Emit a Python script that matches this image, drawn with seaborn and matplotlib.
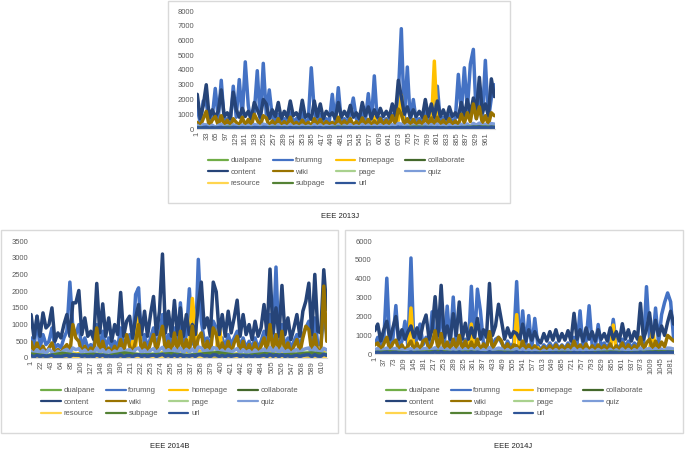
"""
Daily clicks per activity type for three EEE presentations (2013J, 2014B, 2014J).
Three Excel-style line panels: one centred on top, two side by side below.
"""
import numpy as np
import pandas as pd
import matplotlib
matplotlib.use("Agg")
import matplotlib.pyplot as plt
import seaborn as sns
from matplotlib.patches import Rectangle
from matplotlib.lines import Line2D

FIG_W, FIG_H = 685, 453

ACTIVITIES = ["dualpane", "forumng", "homepage", "collaborate", "content", "wiki",
              "page", "quiz", "resource", "subpage", "url"]
COLORS = {
    "dualpane": "#70AD47", "forumng": "#4472C4", "homepage": "#FFC000",
    "collaborate": "#43682B", "content": "#264478", "wiki": "#997300",
    "page": "#A9D18E", "quiz": "#7C9CD8", "resource": "#FFD54F",
    "subpage": "#548235", "url": "#2F5597",
}

# ---------------- EEE 2013J (about 990 days) ----------------
content_13j = [2350, 700, 1600, 3000, 750, 1300, 800, 1200, 2650, 850,
               1100, 700, 2500, 1300, 800, 1400, 850, 1200, 700, 1800,
               1300, 800, 2000, 1700, 700, 1300, 850, 1800, 700, 1200,
               800, 1900, 900, 1100, 700, 1950, 800, 1000, 650, 1900,
               850, 1700, 700, 1200, 900, 1100, 700, 1800, 800, 1200,
               850, 1600, 800, 1100, 700, 1800, 900, 1500, 700, 1300,
               800, 1400, 850, 1200, 800, 1700, 900, 3300, 2200, 1000,
               1500, 800, 1300, 850, 1200, 800, 2000, 850, 1700, 800,
               1900, 850, 1300, 700, 1500, 850, 1100, 800, 1800, 900,
               2000, 1000, 2100, 1200, 3500, 1100, 1700, 900, 3400, 2200]
forumng_13j = [1400, 400, 1900, 1800, 400, 800, 2750, 700, 3300, 500,
               700, 400, 2900, 800, 3350, 800, 4550, 1600, 400, 1100,
               3950, 500, 4450, 1000, 2650, 800, 500, 1000, 400, 700,
               500, 1100, 500, 700, 400, 1100, 500, 600, 4150, 1200,
               500, 1000, 400, 700, 500, 2350, 400, 2800, 500, 700,
               500, 1000, 2100, 700, 400, 1100, 500, 2400, 400, 3600,
               500, 800, 500, 700, 500, 1000, 500, 2300, 6800, 600,
               4200, 500, 2000, 500, 700, 500, 1300, 500, 1000, 500,
               2900, 500, 800, 400, 900, 500, 700, 3700, 1100, 4150,
               1300, 4400, 5400, 700, 2200, 700, 4650, 600, 2100, 3000]
wiki_13j = [450, 200, 700, 1200, 200, 600, 850, 250, 900, 250,
            600, 200, 700, 450, 250, 800, 250, 650, 200, 1000,
            600, 200, 900, 750, 200, 550, 250, 700, 200, 500,
            250, 800, 250, 450, 200, 600, 250, 450, 200, 700,
            250, 650, 200, 500, 300, 450, 200, 800, 250, 550,
            250, 700, 250, 500, 200, 750, 250, 650, 200, 550,
            250, 700, 250, 600, 250, 900, 300, 1350, 1000, 300,
            700, 250, 650, 250, 550, 250, 850, 250, 750, 250,
            800, 300, 600, 200, 700, 300, 550, 250, 1000, 400,
            1100, 500, 1700, 700, 1500, 400, 900, 300, 1100, 900]
quiz_13j = [250, 100, 300, 280, 110, 260, 120, 240, 320, 110,
            230, 100, 290, 210, 100, 270, 120, 250, 100, 310,
            260, 110, 330, 280, 100, 240, 110, 290, 100, 230,
            110, 300, 120, 220, 100, 260, 110, 210, 100, 300,
            110, 280, 100, 240, 130, 230, 100, 290, 110, 250,
            120, 300, 110, 230, 100, 310, 130, 270, 100, 250,
            110, 280, 120, 240, 110, 300, 110, 380, 330, 130,
            280, 110, 260, 110, 240, 110, 320, 120, 300, 110,
            330, 120, 250, 100, 290, 110, 230, 110, 320, 140,
            340, 150, 380, 260, 400, 160, 320, 130, 370, 330]
homepage_13j = [150, 60, 180, 250, 70, 150, 90, 130, 200, 80,
                130, 60, 170, 140, 70, 160, 90, 140, 60, 180,
                160, 70, 190, 170, 60, 140, 80, 160, 50, 130,
                70, 170, 90, 120, 60, 150, 80, 110, 50, 170,
                90, 160, 60, 130, 100, 120, 60, 180, 70, 130,
                80, 160, 70, 120, 60, 170, 90, 150, 60, 800,
                80, 150, 90, 130, 70, 170, 90, 600, 2300, 100,
                150, 70, 140, 90, 130, 70, 190, 90, 160, 4600,
                180, 90, 140, 60, 150, 90, 120, 70, 170, 100,
                190, 110, 220, 150, 260, 120, 180, 90, 240, 200]
url_13j = [80, 40, 100, 120, 50, 90, 60, 85, 110, 55,
           75, 45, 105, 90, 50, 95, 60, 85, 45, 100,
           90, 50, 110, 100, 45, 85, 55, 95, 40, 80,
           50, 100, 60, 75, 45, 90, 55, 70, 40, 100,
           60, 95, 45, 80, 65, 75, 45, 100, 55, 80,
           60, 95, 50, 75, 45, 100, 65, 90, 45, 85,
           55, 90, 60, 80, 50, 95, 60, 130, 110, 65,
           95, 50, 85, 60, 80, 50, 105, 60, 95, 50,
           100, 60, 85, 45, 95, 60, 75, 50, 100, 70,
           105, 70, 120, 90, 130, 75, 100, 60, 125, 100]
dualpane_13j = [20, 10, 30, 15, 25, 10, 20, 35, 15, 25, 10, 30, 20, 15, 40, 25, 20, 30, 35, 25]
collaborate_13j = [5, 0, 10, 5, 0, 5, 10, 0, 5, 5, 0, 10, 5, 0, 5, 10, 5, 0, 10, 5]
page_13j = [120, 60, 150, 90, 80, 130, 70, 110, 60, 140, 90, 120, 70, 100, 160, 110, 80, 130, 170, 140]
resource_13j = [40, 20, 60, 30, 50, 25, 40, 20, 35, 55, 30, 45, 25, 40, 60, 35, 30, 50, 70, 55]
subpage_13j = [90, 40, 110, 60, 70, 100, 50, 80, 45, 120, 70, 90, 55, 80, 130, 90, 60, 100, 140, 110]

# ---------------- EEE 2014B (about 620 days) ----------------
content_14b = [1300, 600, 1250, 650, 1350, 900, 1000, 1500, 500, 750,
               600, 1000, 1300, 650, 1650, 1650, 2020, 700, 1200, 650,
               800, 550, 2230, 750, 1620, 650, 1200, 500, 1000, 700,
               1960, 650, 1100, 1250, 600, 1200, 1600, 700, 1400, 650,
               1300, 1840, 700, 1400, 3110, 750, 1400, 650, 1720, 700,
               1500, 650, 1300, 700, 1000, 700, 1600, 2270, 900, 1200,
               650, 2270, 1980, 700, 1300, 650, 1400, 750, 1200, 1730,
               650, 1300, 700, 1000, 550, 1100, 650, 900, 1600, 700,
               2660, 750, 1500, 650, 2170, 700, 1200, 550, 900, 1300,
               650, 1400, 1700, 2240, 700, 2500, 800, 750, 2640, 1450]
forumng_14b = [600, 300, 1250, 300, 700, 400, 500, 900, 300, 400,
               300, 600, 800, 2270, 900, 700, 1000, 300, 600, 300,
               400, 300, 1000, 300, 800, 300, 600, 300, 500, 300,
               900, 300, 600, 700, 300, 1900, 2100, 400, 700, 300,
               600, 900, 300, 700, 1300, 400, 700, 300, 900, 300,
               1650, 300, 700, 2070, 500, 300, 2950, 1100, 500, 600,
               300, 1100, 900, 300, 600, 300, 700, 400, 600, 800,
               300, 600, 300, 500, 300, 600, 300, 500, 800, 300,
               1300, 400, 2720, 300, 1000, 300, 600, 300, 500, 700,
               300, 700, 900, 1100, 300, 1200, 400, 400, 1300, 700]
wiki_14b = [480, 150, 450, 150, 350, 150, 300, 450, 150, 250,
            150, 300, 400, 150, 1000, 600, 500, 150, 350, 150,
            300, 150, 900, 150, 500, 150, 300, 150, 350, 150,
            550, 150, 700, 350, 150, 500, 1000, 150, 450, 150,
            450, 700, 150, 600, 950, 200, 500, 150, 750, 150,
            800, 150, 550, 150, 950, 200, 600, 750, 200, 500,
            150, 900, 700, 150, 450, 150, 500, 150, 450, 650,
            150, 500, 150, 400, 150, 450, 150, 350, 600, 150,
            1000, 200, 700, 150, 800, 150, 450, 150, 350, 550,
            150, 600, 950, 850, 150, 700, 200, 150, 2150, 500]
quiz_14b = [200, 120, 250, 150, 230, 130, 260, 180, 110, 200,
            140, 220, 260, 150, 300, 250, 280, 160, 240, 130,
            200, 140, 300, 170, 250, 130, 220, 120, 210, 150,
            280, 140, 230, 250, 140, 260, 300, 160, 240, 130,
            230, 280, 150, 250, 320, 170, 250, 140, 290, 160,
            300, 150, 260, 180, 270, 160, 330, 300, 190, 240,
            140, 310, 290, 150, 240, 130, 260, 170, 230, 280,
            140, 250, 160, 220, 120, 240, 140, 210, 270, 150,
            320, 170, 300, 140, 290, 160, 230, 120, 210, 260,
            140, 250, 280, 300, 160, 310, 200, 170, 290, 240]
homepage_14b = [100, 40, 120, 60, 90, 50, 80, 110, 30, 250,
                50, 90, 110, 50, 150, 120, 130, 60, 100, 50,
                80, 50, 140, 60, 120, 40, 90, 30, 80, 50,
                130, 50, 100, 90, 500, 300, 1480, 70, 110, 40,
                100, 130, 60, 110, 170, 60, 110, 40, 130, 50,
                150, 60, 120, 300, 1780, 900, 200, 180, 70, 100,
                50, 160, 140, 1100, 90, 40, 110, 50, 100, 130,
                40, 100, 50, 80, 30, 90, 40, 70, 110, 50,
                170, 60, 180, 50, 150, 50, 90, 30, 70, 100,
                50, 100, 130, 150, 50, 170, 60, 50, 180, 100]
url_14b = [70, 35, 80, 40, 75, 45, 60, 85, 30, 55,
           40, 65, 80, 40, 95, 85, 90, 45, 70, 40,
           60, 40, 95, 50, 85, 40, 65, 30, 60, 45,
           90, 40, 70, 75, 40, 80, 95, 45, 75, 40,
           70, 90, 45, 80, 110, 50, 80, 40, 90, 45,
           95, 40, 75, 50, 85, 45, 100, 95, 55, 70,
           40, 95, 90, 45, 75, 40, 80, 50, 70, 90,
           40, 75, 45, 65, 35, 70, 40, 60, 85, 45,
           105, 50, 90, 40, 95, 45, 70, 35, 60, 80,
           40, 75, 90, 95, 45, 100, 55, 50, 110, 80]
dualpane_14b = [30, 15, 40, 20, 35, 25, 45, 20, 30, 40, 25, 35, 50, 30, 20, 40, 25, 35, 45, 30]
collaborate_14b = [5, 10, 0, 5, 15, 5, 0, 10, 5, 5, 10, 0, 5, 15, 5, 0, 10, 5, 5, 10]
page_14b = [150, 80, 170, 100, 140, 90, 180, 110, 130, 160, 90, 150, 190, 120, 100, 160, 110, 140, 180, 130]
resource_14b = [50, 25, 60, 30, 45, 35, 70, 30, 40, 55, 30, 50, 65, 40, 30, 55, 35, 45, 60, 40]
subpage_14b = [120, 60, 140, 80, 110, 70, 150, 90, 100, 130, 70, 120, 160, 90, 80, 130, 90, 110, 150, 100]

# ---------------- EEE 2014J (about 1090 days) ----------------
content_14j = [1250, 1600, 700, 1300, 1750, 800, 1400, 2000, 800, 1300,
               800, 1200, 1500, 900, 1400, 800, 1600, 2080, 800, 1300,
               3050, 1000, 3650, 900, 1500, 800, 2150, 1000, 2770, 800,
               1650, 800, 1400, 900, 1900, 800, 1300, 900, 3750, 1000,
               1500, 2650, 1750, 800, 1400, 900, 1200, 1100, 800, 1600,
               700, 1300, 750, 1200, 800, 600, 1100, 700, 1200, 750,
               1300, 700, 1100, 750, 1250, 700, 2170, 800, 1300, 700,
               1400, 800, 1200, 700, 1300, 800, 1100, 700, 1400, 800,
               1200, 700, 1620, 800, 1300, 700, 1200, 800, 2700, 800,
               1300, 2200, 900, 1800, 1000, 1500, 1000, 1700, 2280, 1600]
forumng_14j = [500, 900, 300, 700, 4030, 400, 800, 2580, 300, 700,
               1750, 400, 5100, 300, 900, 1600, 500, 900, 300, 2250,
               1000, 500, 2700, 400, 2550, 500, 3030, 400, 1000, 300,
               800, 300, 3600, 500, 3450, 2300, 600, 400, 1200, 500,
               800, 900, 600, 300, 700, 400, 600, 3850, 400, 2300,
               400, 2050, 300, 1900, 500, 200, 500, 300, 600, 300,
               600, 300, 500, 300, 600, 300, 900, 500, 2300, 300,
               700, 2570, 500, 300, 1580, 400, 600, 300, 700, 1850,
               500, 300, 800, 400, 700, 300, 600, 400, 900, 400,
               3580, 900, 500, 2450, 600, 2100, 2750, 3250, 2780, 800]
wiki_14j = [500, 600, 200, 550, 900, 200, 600, 750, 200, 500,
            200, 450, 700, 200, 600, 200, 700, 800, 200, 600,
            1250, 250, 1100, 200, 650, 200, 800, 250, 1000, 200,
            700, 200, 650, 250, 800, 200, 550, 250, 1200, 300,
            600, 900, 700, 200, 550, 200, 500, 450, 200, 700,
            200, 500, 200, 450, 250, 200, 400, 200, 450, 200,
            500, 200, 450, 200, 500, 200, 700, 250, 500, 200,
            550, 200, 450, 200, 500, 250, 450, 200, 550, 200,
            450, 200, 600, 200, 500, 200, 450, 250, 900, 200,
            600, 800, 250, 700, 300, 650, 400, 1000, 850, 700]
quiz_14j = [250, 300, 110, 260, 330, 110, 280, 320, 120, 260,
            130, 250, 300, 130, 280, 120, 290, 320, 110, 260,
            350, 140, 340, 120, 280, 130, 310, 140, 330, 120,
            290, 110, 300, 130, 320, 120, 260, 130, 360, 150,
            270, 330, 290, 110, 260, 130, 240, 300, 120, 290,
            100, 250, 120, 230, 150, 100, 220, 100, 240, 110,
            250, 100, 230, 110, 250, 100, 310, 130, 260, 100,
            270, 120, 240, 100, 260, 140, 230, 100, 270, 110,
            240, 100, 280, 110, 260, 100, 250, 130, 330, 110,
            270, 310, 140, 300, 150, 280, 170, 330, 320, 280]
homepage_14j = [120, 160, 50, 130, 200, 60, 140, 180, 60, 120,
                150, 60, 2450, 50, 160, 130, 80, 170, 60, 200,
                180, 80, 220, 70, 170, 80, 200, 70, 160, 60,
                140, 50, 1600, 80, 200, 170, 90, 60, 180, 80,
                130, 190, 150, 50, 130, 70, 110, 2100, 60, 170,
                60, 160, 50, 150, 350, 40, 100, 50, 120, 60,
                120, 50, 110, 60, 130, 50, 170, 70, 130, 50,
                140, 180, 110, 50, 140, 70, 110, 50, 130, 1550,
                110, 50, 150, 60, 130, 50, 120, 70, 190, 60,
                230, 170, 1400, 200, 80, 170, 200, 240, 230, 150]
url_14j = [80, 100, 40, 85, 110, 45, 90, 105, 50, 80,
           60, 75, 120, 45, 90, 70, 60, 95, 45, 85,
           130, 55, 140, 50, 95, 55, 110, 60, 120, 45,
           90, 40, 115, 55, 110, 80, 65, 50, 135, 60,
           85, 110, 90, 40, 80, 55, 70, 125, 45, 100,
           40, 85, 45, 80, 60, 35, 70, 40, 80, 45,
           85, 40, 75, 45, 85, 40, 100, 55, 90, 40,
           90, 65, 80, 40, 85, 50, 75, 40, 85, 70,
           80, 40, 90, 50, 85, 40, 80, 55, 110, 45,
           95, 100, 70, 105, 60, 95, 80, 115, 110, 90]
dualpane_14j = [25, 35, 20, 30, 40, 25, 35, 20, 30, 25, 20, 25, 30, 20, 25, 35, 25, 30, 40, 35]
collaborate_14j = [5, 10, 5, 0, 10, 5, 5, 0, 10, 5, 0, 5, 5, 0, 5, 10, 5, 5, 10, 5]
page_14j = [130, 160, 100, 140, 180, 120, 150, 90, 140, 110, 80, 100, 120, 90, 110, 150, 100, 130, 170, 150]
resource_14j = [40, 55, 30, 45, 60, 35, 50, 30, 45, 35, 25, 30, 40, 30, 35, 50, 35, 45, 60, 50]
subpage_14j = [100, 130, 80, 110, 150, 90, 120, 70, 110, 90, 60, 80, 100, 70, 90, 120, 80, 100, 140, 120]


def px_rect(x0, y0, x1, y1):
    """Pixel box (top-left origin) -> figure fraction [left, bottom, width, height]."""
    return [x0 / FIG_W, 1 - y1 / FIG_H, (x1 - x0) / FIG_W, (y1 - y0) / FIG_H]


def build_frame(n_days, series):
    """Long-form frame; every series is spread evenly over the course days."""
    rows = []
    for name, values in series.items():
        days = np.linspace(1, n_days, len(values))
        rows.append(pd.DataFrame({"day": days, "clicks": values, "activity": name}))
    return pd.concat(rows, ignore_index=True)


PANELS = [
    {
        "title": "EEE 2013J", "n_days": 990, "ymax": 8000, "ystep": 1000, "xstep": 32,
        "axes": (197.1, 11, 494.5, 129), "box": (168, 1, 510, 203),
        "legend_x": 208, "legend_y": 157, "caption": (340, 216),
        "series": {"dualpane": dualpane_13j, "forumng": forumng_13j, "homepage": homepage_13j,
                   "collaborate": collaborate_13j, "content": content_13j, "wiki": wiki_13j,
                   "page": page_13j, "quiz": quiz_13j, "resource": resource_13j,
                   "subpage": subpage_13j, "url": url_13j},
    },
    {
        "title": "EEE 2014B", "n_days": 620, "ymax": 3500, "ystep": 500, "xstep": 21,
        "axes": (30.8, 241, 327, 358), "box": (1, 230, 338, 433),
        "legend_x": 41, "legend_y": 387, "caption": (170, 447),
        "series": {"dualpane": dualpane_14b, "forumng": forumng_14b, "homepage": homepage_14b,
                   "collaborate": collaborate_14b, "content": content_14b, "wiki": wiki_14b,
                   "page": page_14b, "quiz": quiz_14b, "resource": resource_14b,
                   "subpage": subpage_14b, "url": url_14b},
    },
    {
        "title": "EEE 2014J", "n_days": 1090, "ymax": 6000, "ystep": 1000, "xstep": 36,
        "axes": (374.6, 241, 673.8, 354.3), "box": (345, 230, 683, 433),
        "legend_x": 386, "legend_y": 387, "caption": (513, 447),
        "series": {"dualpane": dualpane_14j, "forumng": forumng_14j, "homepage": homepage_14j,
                   "collaborate": collaborate_14j, "content": content_14j, "wiki": wiki_14j,
                   "page": page_14j, "quiz": quiz_14j, "resource": resource_14j,
                   "subpage": subpage_14j, "url": url_14j},
    },
]

# Excel fills the legend row by row, matplotlib column by column
LEGEND_ORDER = ["dualpane", "content", "resource", "forumng", "wiki", "subpage",
                "homepage", "page", "url", "collaborate", "quiz"]

sns.set_style("white")
plt.rcParams["font.family"] = ["Liberation Sans", "DejaVu Sans"]
TICK_COLOR = "#595959"

fig = plt.figure(figsize=(FIG_W / 100, FIG_H / 100), dpi=100)

for panel in PANELS:
    bx0, by0, bx1, by1 = panel["box"]
    fig.add_artist(Rectangle((bx0 / FIG_W, 1 - by1 / FIG_H), (bx1 - bx0) / FIG_W,
                             (by1 - by0) / FIG_H, transform=fig.transFigure,
                             fill=False, edgecolor="#D9D9D9", linewidth=1.0))

    ax = fig.add_axes(px_rect(*panel["axes"]))
    df = build_frame(panel["n_days"], panel["series"])
    sns.lineplot(data=df, x="day", y="clicks", hue="activity", hue_order=ACTIVITIES,
                 palette=COLORS, linewidth=2.5, legend=False, ax=ax,
                 estimator=None, sort=False)

    n = panel["n_days"]
    ax.set_xlim(0.5, n + 0.5)
    ax.set_ylim(0, panel["ymax"])
    ax.set_yticks(np.arange(0, panel["ymax"] + 1, panel["ystep"]))
    xt = np.arange(1, n + 1, panel["xstep"])
    ax.set_xticks(xt)
    ax.set_xticklabels([str(v) for v in xt], rotation=90)
    ax.tick_params(axis="both", labelsize=5.5, colors=TICK_COLOR, length=0, pad=2)
    ax.set_xlabel("")
    ax.set_ylabel("")
    for side in ["left", "right", "top"]:
        ax.spines[side].set_visible(False)
    ax.spines["bottom"].set_color("#D9D9D9")
    ax.spines["bottom"].set_linewidth(0.8)

    handles = [Line2D([0], [0], color=COLORS[a], linewidth=1.6) for a in LEGEND_ORDER]
    fig.legend(handles, LEGEND_ORDER, ncol=4, frameon=False, fontsize=5.5,
               loc="upper left",
               bbox_to_anchor=(panel["legend_x"] / FIG_W, 1 - panel["legend_y"] / FIG_H),
               handlelength=2.6, handletextpad=0.35, columnspacing=1.4,
               labelspacing=0.55, borderpad=0, borderaxespad=0,
               labelcolor=TICK_COLOR)

    cx, cy = panel["caption"]
    fig.text(cx / FIG_W, 1 - cy / FIG_H, panel["title"], ha="center", va="center",
             fontsize=5.5, color="#222222")

fig.savefig("out.png", dpi=100)
